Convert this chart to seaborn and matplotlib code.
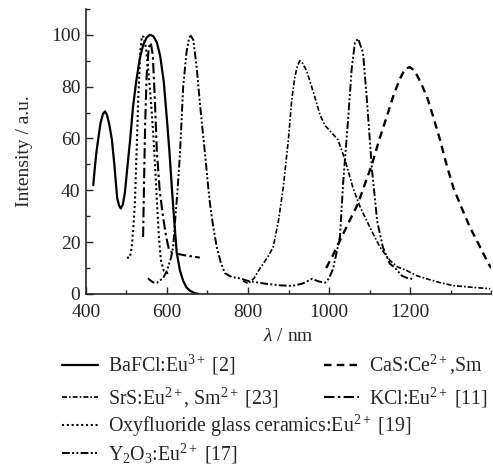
import numpy as np
import pandas as pd
import matplotlib
matplotlib.use("Agg")
import matplotlib.pyplot as plt
import seaborn as sns
from matplotlib.ticker import MultipleLocator

# ---- data ----
bafcl_x = [418, 422, 426, 430, 436, 442, 447, 452, 458, 464, 470, 477, 482, 486, 491, 496, 501, 509, 516, 524, 533, 541, 550, 558, 566, 575, 583, 592, 600, 606, 612, 618, 624, 632, 640, 648, 657, 667, 677]
bafcl_y = [42, 49, 55, 59.5, 66, 69.5, 70.4, 69, 65, 59.5, 50, 37, 34, 33, 34.5, 39, 47, 59.5, 72, 82, 91, 96, 99, 100, 99.5, 97, 92, 82, 67, 55, 41, 28, 16, 9, 5, 2.5, 1.2, 0.4, 0]

cas_x = [993, 1010, 1027, 1050, 1072, 1090, 1106, 1125, 1143, 1160, 1175, 1188, 1200, 1212, 1228, 1242, 1258, 1274, 1290, 1307, 1328, 1348, 1370, 1390, 1400]
cas_y = [10, 15, 20.6, 28, 35, 43, 50, 60, 68.6, 77, 83, 87, 87.5, 86, 81, 76, 68, 59.5, 50, 41, 33, 25.7, 19, 12.8, 10]

srs_x = [788, 800, 815, 830, 848, 862, 875, 887, 900, 908, 916, 922, 928, 935, 945, 953, 965, 978, 990, 1002, 1022, 1039, 1059, 1077, 1101, 1126, 1150, 1168, 1192, 1217, 1242, 1275, 1307, 1350, 1398]
srs_y = [5, 4, 6, 10, 14, 18, 28, 41, 60, 75, 84, 88, 90, 89, 86, 82, 76, 69, 65, 63, 59.5, 52, 41, 33.5, 25.7, 18, 13, 10.5, 9, 7, 5.8, 4.3, 3.2, 2.6, 2]

kcl_x = [541, 543, 546, 550, 555, 560, 565, 570, 575, 582, 590, 598, 605, 612, 625, 640, 660, 681]
kcl_y = [22, 40, 65, 85, 95, 97, 92, 75, 55, 40, 30, 22, 17, 16, 15.5, 15, 14.5, 14]

oxy_x = [501, 508, 513, 518, 521, 525, 529, 534, 538, 543, 548, 553, 560, 566, 571, 575, 580, 585, 592, 600, 607]
oxy_y = [14, 14, 18, 28, 36, 55, 75, 93, 99.5, 99, 95, 88, 75, 62, 48, 36, 22, 13, 9, 8, 8.5]

y2o3_x = [553, 565, 575, 590, 600, 610, 615, 620, 626, 632, 640, 648, 655, 659, 665, 673, 681, 688, 694, 700, 706, 714, 723, 733, 743, 760, 780, 800, 840, 880, 909, 935, 958, 975, 990, 1000, 1010, 1027, 1035, 1047, 1056, 1064, 1072, 1084, 1094, 1106, 1119, 1133, 1150, 1163, 1180, 1192, 1205]
y2o3_y = [6, 4.5, 4.3, 6, 9, 14, 18, 28, 40, 54, 80, 93, 99, 99.6, 98, 88, 74, 63, 54, 44, 35, 26, 18, 12, 8, 6.5, 6, 5, 4, 3.3, 3.1, 4, 5.8, 4.8, 4.3, 6, 9.7, 22, 43, 67, 87, 97, 98.5, 93, 74, 48, 28, 18, 11.7, 10, 7, 6.2, 5.8]

labels = [
    "BaFCl:Eu$^{3+}$ [2]",
    "CaS:Ce$^{2+}$,Sm",
    "SrS:Eu$^{2+}$, Sm$^{2+}$ [23]",
    "KCl:Eu$^{2+}$ [11]",
    "Oxyfluoride glass ceramics:Eu$^{2+}$ [19]",
    "Y$_2$O$_3$:Eu$^{2+}$ [17]",
]
series_x = [bafcl_x, cas_x, srs_x, kcl_x, oxy_x, y2o3_x]
series_y = [bafcl_y, cas_y, srs_y, kcl_y, oxy_y, y2o3_y]
styles = [
    dict(linestyle="-", lw=1.6),
    dict(linestyle=(0, (3.2, 2.2)), lw=1.7),
    dict(linestyle=(0, (3, 1.2, 1, 1.2)), lw=1.2),
    dict(linestyle=(0, (5, 1.6, 1.2, 1.6)), lw=1.5),
    dict(linestyle=(0, (1, 1.3)), lw=1.5),
    dict(linestyle=(0, (4, 1.2, 1, 1.2, 1, 1.2)), lw=1.4),
]

frames = []
for lab, xs, ys in zip(labels, series_x, series_y):
    frames.append(pd.DataFrame({"wl": xs, "I": ys, "s": lab}))
df = pd.concat(frames, ignore_index=True)

sns.set_style("ticks")
plt.rcParams["font.family"] = ["Liberation Serif", "DejaVu Serif"]
plt.rcParams["mathtext.fontset"] = "custom"
plt.rcParams["mathtext.rm"] = "Liberation Serif"
plt.rcParams["mathtext.it"] = "Liberation Serif:italic"
plt.rcParams["mathtext.bf"] = "Liberation Serif:bold"

fig = plt.figure(figsize=(4.93, 4.68), dpi=100)
ax = fig.add_axes([0.1744, 0.372, 0.8216, 0.609])

handles = []
for lab, st in zip(labels, styles):
    sub = df[df["s"] == lab]
    sns.lineplot(data=sub, x="wl", y="I", ax=ax, sort=False, estimator=None,
                 color="black", linestyle=st["linestyle"], linewidth=st["lw"])
    handles.append(ax.get_lines()[-1])

ax.set_xlim(400, 1400)
ax.set_ylim(0, 110)
ax.xaxis.set_minor_locator(MultipleLocator(100))
ax.yaxis.set_minor_locator(MultipleLocator(10))
ax.set_xticks([400, 600, 800, 1000, 1200])
ax.set_yticks([0, 20, 40, 60, 80, 100])
ax.tick_params(which="both", direction="in", width=1.0, labelsize=14)
ax.tick_params(axis="x", pad=7)
ax.tick_params(axis="y", pad=4)
ax.tick_params(which="major", length=5)
ax.tick_params(which="minor", length=3)
for sp in ["top", "right"]:
    ax.spines[sp].set_visible(False)
for sp in ["left", "bottom"]:
    ax.spines[sp].set_linewidth(1.2)
ax.set_xlabel(r"$\mathit{\lambda}$ / nm", fontsize=14, labelpad=5)
ax.set_ylabel("Intensity / a.u.", fontsize=14, labelpad=13)

leg_kw = dict(frameon=False, fontsize=14.3, handlelength=1.8, handletextpad=0.5,
              borderpad=0, borderaxespad=0)
l1 = fig.legend([handles[0], handles[2], handles[1], handles[3]],
                [labels[0], labels[2], labels[1], labels[3]],
                ncol=2, loc="upper left", bbox_to_anchor=(62 / 493, 1 - 353 / 468),
                columnspacing=2.3, labelspacing=0.42, **leg_kw)
l2 = fig.legend([handles[4], handles[5]], [labels[4], labels[5]],
                ncol=1, loc="upper left", bbox_to_anchor=(62 / 493, 1 - 413 / 468),
                labelspacing=0.12, **leg_kw)

fig.savefig("out.png", dpi=100)
